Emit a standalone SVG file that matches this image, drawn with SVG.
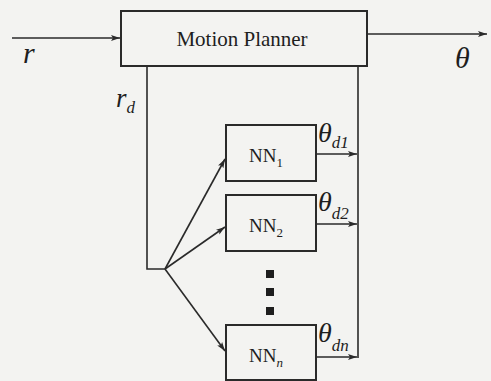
<svg xmlns="http://www.w3.org/2000/svg" width="491" height="381" viewBox="0 0 491 381">
<defs>
<marker id="ah" markerWidth="10" markerHeight="8" refX="9" refY="4" orient="auto" markerUnits="userSpaceOnUse">
<path d="M0,1 L9,4 L0,7 L2,4 Z" fill="#2a2a2a"/>
</marker>
<style>
.box{fill:none;stroke:#2a2a2a;stroke-width:2}
.ln{fill:none;stroke:#2a2a2a;stroke-width:1.6}
.t{font-family:"Liberation Serif","Times New Roman",serif;fill:#1e1e1e}
.it{font-family:"Liberation Serif","Times New Roman",serif;font-style:italic;fill:#1e1e1e}
</style>
</defs>
<rect width="491" height="381" fill="#f3f3f1"/>
<g id="connectors">
<line class="ln" x1="12" y1="38" x2="120" y2="38" marker-end="url(#ah)"/>
<line class="ln" x1="368" y1="34" x2="487" y2="34" marker-end="url(#ah)"/>
<polyline class="ln" points="147,66 147,269 165,269"/>
<line class="ln" x1="165" y1="269" x2="225" y2="159" marker-end="url(#ah)"/>
<line class="ln" x1="165" y1="269" x2="225" y2="227" marker-end="url(#ah)"/>
<line class="ln" x1="165" y1="269" x2="225" y2="351" marker-end="url(#ah)"/>
<line class="ln" x1="358" y1="66" x2="358" y2="358"/>
<line class="ln" x1="316" y1="154" x2="357" y2="154" marker-end="url(#ah)"/>
<line class="ln" x1="316" y1="224" x2="357" y2="224" marker-end="url(#ah)"/>
<line class="ln" x1="316" y1="357" x2="357" y2="357" marker-end="url(#ah)"/>
</g>
<g id="planner">
<rect class="box" x="121" y="11" width="246" height="55"/>
<text class="t" x="242" y="46" font-size="21" text-anchor="middle">Motion Planner</text>
</g>
<g id="nn1">
<rect class="box" x="226" y="125" width="90" height="56"/>
<text class="t" x="249" y="162" font-size="19">NN<tspan font-size="13" dy="5">1</tspan></text>
</g>
<g id="nn2">
<rect class="box" x="226" y="195" width="90" height="56"/>
<text class="t" x="249" y="232" font-size="19">NN<tspan font-size="13" dy="5">2</tspan></text>
</g>
<g id="nnn">
<rect class="box" x="226" y="325" width="90" height="55"/>
<text class="t" x="249" y="362" font-size="19">NN<tspan class="it" font-size="13" dy="5">n</tspan></text>
</g>
<g id="dots" fill="#1e1e1e">
<rect x="266" y="270" width="8" height="8"/>
<rect x="266" y="288" width="8" height="8"/>
<rect x="266" y="307" width="8" height="8"/>
</g>
<g id="labels">
<text class="it" x="23" y="63" font-size="30">r</text>
<text class="it" x="455" y="68" font-size="30">θ</text>
<text class="it" x="116" y="107" font-size="27">r<tspan font-size="17" dy="6">d</tspan></text>
<text class="it" x="318" y="142" font-size="28">θ<tspan font-size="17" dy="6">d</tspan><tspan class="t" font-size="17">1</tspan></text>
<text class="it" x="318" y="211" font-size="28">θ<tspan font-size="17" dy="8">d</tspan><tspan class="t" font-size="17">2</tspan></text>
<text class="it" x="318" y="342" font-size="28">θ<tspan font-size="17" dy="9">dn</tspan></text>
</g>
</svg>
